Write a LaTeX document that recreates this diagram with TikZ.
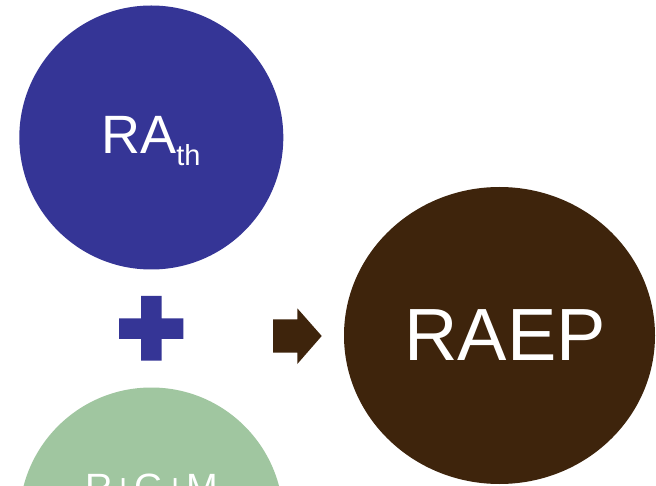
\documentclass[tikz,border=0pt]{standalone}
\usepackage{fontspec}
\setmainfont{Liberation Sans}
\usetikzlibrary{shapes.geometric}
\definecolor{cblue}{RGB}{53,53,150}
\definecolor{cbrown}{RGB}{62,36,12}
\definecolor{cgreen}{RGB}{160,198,160}
\begin{document}
\begin{tikzpicture}[x=1pt,y=-1pt,
  disc/.style={circle,inner sep=0pt,minimum size=264pt},
  lbl/.style={text=white,anchor=base,inner sep=0pt}]
\useasboundingbox (0,0) rectangle (656,486);
\clip (0,0) rectangle (656,486);
\fill[white] (0,0) rectangle (656,486);
% circles
\node[disc,fill=cblue] (rath) at (151.3,137.5) {};
\node[disc,fill=cgreen] (rgm) at (151.3,519.5) {};
\node[ellipse,fill=cbrown,inner sep=0pt,minimum width=311pt,minimum height=297pt] (raep) at (499.5,335.5) {};
% labels
\node[lbl] (trath) at (151,154) {\fontsize{54}{60}\selectfont RA\raisebox{-12pt}{\fontsize{29}{32}\selectfont th}};
\node[lbl] (traep) at (505,360) {\fontsize{74}{80}\selectfont RAEP};
\node[lbl] (trgm) at (151.7,500.5) {\fontsize{38}{44}\selectfont R+G+M};
% plus sign
\fill[cblue] (119,318.3) rectangle (183.3,339)
             (141,296) rectangle (161.7,360.7);
% block arrow
\fill[cbrown] (273,319.3) -- (297.3,319.3) -- (297.3,308.3) -- (321.7,336)
  -- (297.3,364) -- (297.3,352.7) -- (273,352.7) -- cycle;
\end{tikzpicture}
\end{document}
